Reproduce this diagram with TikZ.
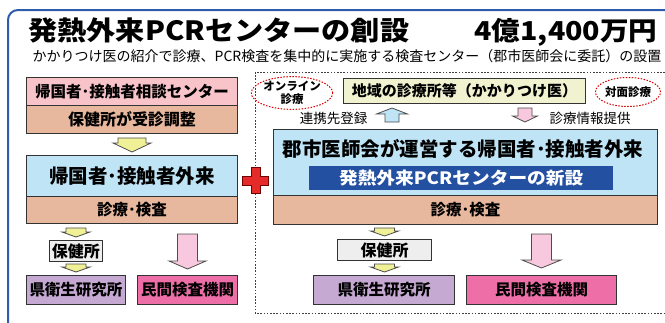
\documentclass[tikz,border=0pt]{standalone}
\usepackage{fontspec}
\setmainfont{Noto Sans CJK JP}
\newfontfamily\jpwide{Noto Sans CJK JP}[FakeStretch=1.1]
\usetikzlibrary{calc,shapes.geometric}

\definecolor{framebl}{RGB}{46,91,170}
\definecolor{soudanpk}{RGB}{248,195,201}
\definecolor{shinryobr}{RGB}{232,184,158}
\definecolor{gairaibl}{RGB}{190,228,246}
\definecolor{hokengr}{RGB}{238,238,238}
\definecolor{eikenpu}{RGB}{197,169,210}
\definecolor{minkanpk}{RGB}{238,111,168}
\definecolor{arrowyl}{RGB}{240,240,150}
\definecolor{arrowpk}{RGB}{248,200,222}
\definecolor{chiikiyl}{RGB}{241,242,208}
\definecolor{bannerbl}{RGB}{35,80,160}
\definecolor{crossrd}{RGB}{229,42,42}

\newcommand{\jpsize}[1]{\fontsize{#1}{#1}\selectfont}
% style, from, to, shaft half width, head half width, head length
\newcommand{\blockarrow}[6]{%
  \draw[#1] let \p1=#2, \p2=#3, \p3=($#3!#6!#2$) in
    (\x1-#4,\y1) -- (\x1+#4,\y1) -- (\x1+#4,\y3) -- (\x1+#5,\y3)
    -- (\x1,\y2) -- (\x1-#5,\y3) -- (\x1-#4,\y3) -- cycle;}

\tikzset{
  box/.style={draw=black!80, line width=1pt, inner sep=0pt, anchor=north west,
    font=\bfseries\jpsize{15.5}},
  bubble/.style={ellipse, draw=red!85!black, dash pattern=on 1.5pt off 1.5pt,
    line width=1pt, inner sep=0pt, minimum width=64pt, minimum height=29pt,
    align=center, font=\bfseries\fontsize{11.5}{12.5}\selectfont},
  barrow/.style={draw=black!70, line width=0.8pt}
}

\begin{document}
\begin{tikzpicture}[x=1pt, y=-1pt]
    \useasboundingbox (0,0) rectangle (665,322);
    % frames
    \draw[framebl, line width=2pt, rounded corners=10pt] (8,330) |- (675,10);
    \draw[black!75, line width=1pt, dash pattern=on 1.6pt off 1.6pt] (255,72) rectangle (675,313);

    % heading
    \node[anchor=base west, font=\jpwide\bfseries\jpsize{26.5}] (title) at (25,40) {発熱外来PCRセンターの創設};
    \node[anchor=base east, font=\jpwide\bfseries\jpsize{26}] (cost) at (661,40) {4億1,400万円};
    \node[anchor=base west, font=\jpsize{14}] (subtitle) at (29,61)
        {かかりつけ医の紹介で診療、PCR検査を集中的に実施する検査センター（郡市医師会に委託）の設置};

    % left: before
    \node[box, fill=soudanpk, minimum width=211pt, minimum height=28pt] (soudan) at (26,77) {帰国者･接触者相談センター};
    \node[box, fill=shinryobr, minimum width=211pt, minimum height=28pt, font=\bfseries\jpsize{16}] (chousei) at (26,105) {保健所が受診調整};
    \node[box, fill=gairaibl, minimum width=211pt, minimum height=41pt, font=\bfseries\jpsize{19.5}] (gairai) at (26,155) {帰国者･接触者外来};
    \node[box, fill=shinryobr, minimum width=211pt, minimum height=27pt] (shinryo) at (26,196) {診療･検査};
    \node[box, fill=hokengr, minimum width=53pt, minimum height=21pt, font=\bfseries\jpsize{16}] (hokenjo) at (49,240) {保健所};
    \node[box, fill=eikenpu, minimum width=99pt, minimum height=29pt] (eiken) at (26,275) {県衛生研究所};
    \node[box, fill=minkanpk, minimum width=100pt, minimum height=29pt] (minkan) at (137,275) {民間検査機関};

    \coordinate (a1s) at ($(chousei.south)+(0,4)$);
    \coordinate (a1e) at ($(gairai.north)+(0,-3)$);
    \blockarrow{barrow, fill=arrowyl}{(a1s)}{(a1e)}{14pt}{19pt}{9pt}
    \coordinate (a2s) at ($(shinryo.south -| hokenjo)+(0,4)$);
    \coordinate (a2e) at ($(hokenjo.north)+(0,-3)$);
    \blockarrow{barrow, fill=arrowyl}{(a2s)}{(a2e)}{10pt}{14pt}{5pt}
    \coordinate (a3s) at ($(hokenjo.south)+(0,2)$);
    \coordinate (a3e) at ($(eiken.north -| hokenjo)+(0,-3)$);
    \blockarrow{barrow, fill=arrowyl}{(a3s)}{(a3e)}{10pt}{14pt}{5pt}
    \coordinate (a4s) at ($(shinryo.south -| minkan)+(0,10)$);
    \coordinate (a4e) at ($(minkan.north)+(0,-6)$);
    \blockarrow{barrow, fill=arrowpk}{(a4s)}{(a4e)}{10pt}{18.5pt}{8pt}

    % plus
    \filldraw[fill=crossrd, draw=red!45!black, line width=0.6pt]
        (242,176) -- (251,176) -- (251,167) -- (260,167) -- (260,176) -- (268,176)
        -- (268,185) -- (260,185) -- (260,193) -- (251,193) -- (251,185) -- (242,185) -- cycle;

    % right: after
    \node[bubble] (online) at (292,93) {オンライン\\診療};
    \node[box, fill=chiikiyl, minimum width=242pt, minimum height=25pt, font=\bfseries\jpsize{15}] (chiiki) at (343,78) {地域の診療所等（かかりつけ医）};
    \node[bubble, minimum width=63pt] (taimen) at (628,92) {対面診療};

    \node[anchor=east, font=\jpsize{13.5}] (renkei) at (371,118) {連携先登録};
    \node[anchor=west, font=\jpsize{13.5}] (teikyo) at (546,118) {診療情報提供};
    \coordinate (ups) at (392,122);
    \coordinate (upe) at (392,108);
    \blockarrow{barrow, fill=gairaibl}{(ups)}{(upe)}{7pt}{15.5pt}{6pt}
    \coordinate (dns) at (525,108);
    \coordinate (dne) at (525,122);
    \blockarrow{barrow, fill=arrowpk}{(dns)}{(dne)}{7pt}{12.5pt}{6pt}

    \node[box, fill=gairaibl, minimum width=384pt, minimum height=66pt] (gunshi) at (273,129) {};
    \node[anchor=west, font=\bfseries\jpsize{19.5}] (gunshitxt) at (279,149) {郡市医師会が運営する帰国者･接触者外来};
    \node[anchor=north west, fill=bannerbl, minimum width=304pt, minimum height=24pt, inner sep=0pt,
        text=white, font=\jpwide\bfseries\jpsize{17}] (banner) at (309,166) {発熱外来PCRセンターの新設};
    \node[box, fill=shinryobr, minimum width=384pt, minimum height=29pt] (shinryo2) at (273,195) {診療･検査};
    \node[box, fill=hokengr, minimum width=94pt, minimum height=21pt, font=\bfseries\jpsize{16}] (hokenjo2) at (337,239) {保健所};
    \node[box, fill=eikenpu, minimum width=141pt, minimum height=29pt] (eiken2) at (313,275) {県衛生研究所};
    \node[box, fill=minkanpk, minimum width=150pt, minimum height=29pt] (minkan2) at (466,275) {民間検査機関};

    \coordinate (b1s) at ($(shinryo2.south -| hokenjo2)+(0,3)$);
    \coordinate (b1e) at ($(hokenjo2.north)+(0,-3)$);
    \blockarrow{barrow, fill=arrowyl}{(b1s)}{(b1e)}{10pt}{14pt}{5pt}
    \coordinate (b2s) at ($(hokenjo2.south)+(0,3)$);
    \coordinate (b2e) at ($(eiken2.north -| hokenjo2)+(0,-3)$);
    \blockarrow{barrow, fill=arrowyl}{(b2s)}{(b2e)}{10pt}{14pt}{5pt}
    \coordinate (b3s) at ($(shinryo2.south -| minkan2)+(0,9)$);
    \coordinate (b3e) at ($(minkan2.north)+(0,-7)$);
    \blockarrow{barrow, fill=arrowpk}{(b3s)}{(b3e)}{10pt}{19.5pt}{8pt}
\end{tikzpicture}
\end{document}
